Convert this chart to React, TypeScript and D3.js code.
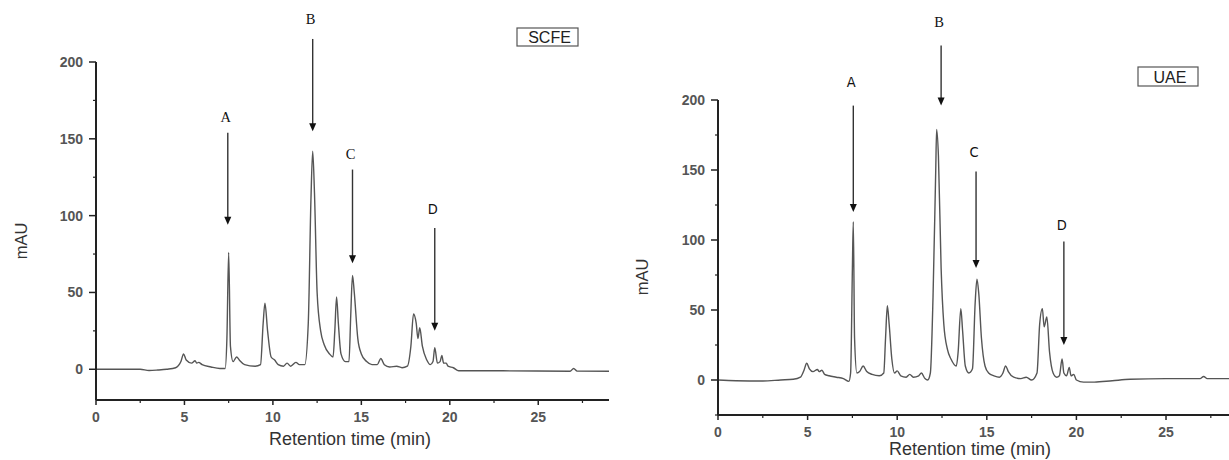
import React from "react";
import * as d3 from "d3";

// ---- data (retention time in min, absorbance in mAU) ----
const scfeTrace: [number, number][] = [
  [0, 0], [2.5, 0], [3.0, -0.8], [3.5, -0.5], [4.0, 0], [4.5, 1], [4.8, 5], [4.95, 10], [5.1, 6], [5.4, 4],
  [5.6, 5.5], [5.7, 4], [5.8, 4.5], [6.0, 3], [6.5, 1.5], [7.0, 0.5], [7.3, 0.5], [7.4, 20], [7.5, 76], [7.6, 15],
  [7.75, 5], [7.95, 8], [8.1, 6], [8.4, 3], [9.0, 2], [9.3, 3], [9.45, 30], [9.55, 43], [9.7, 25], [9.9, 8],
  [10.1, 6], [10.3, 3], [10.6, 2], [10.8, 4], [11.0, 2], [11.3, 4.5], [11.5, 3], [11.8, 3], [12.0, 30], [12.15, 110],
  [12.25, 142], [12.35, 115], [12.5, 50], [12.7, 25], [12.9, 16], [13.2, 10], [13.4, 8], [13.5, 25], [13.6, 47], [13.7, 30],
  [13.85, 10], [14.1, 5], [14.3, 5], [14.4, 35], [14.5, 61], [14.6, 50], [14.8, 20], [15.0, 10], [15.3, 5], [15.6, 3],
  [15.9, 3], [16.1, 7], [16.3, 3], [16.6, 1.5], [17.0, 2], [17.3, 1], [17.6, 2], [17.8, 15], [17.95, 36], [18.1, 30],
  [18.2, 20], [18.3, 27], [18.45, 15], [18.7, 6], [18.9, 3], [19.05, 5], [19.15, 14], [19.3, 4], [19.45, 5], [19.55, 9],
  [19.65, 4], [19.8, 4], [19.9, 2], [20.2, 1], [20.5, -1], [21, -1], [23, -1], [26.8, -1.3], [27.0, 0.5], [27.2, -1.2],
  [29, -1.3],
];

const uaeTrace: [number, number][] = [
  [0, 0], [1.0, -0.5], [2.5, -0.7], [3.5, 0], [4.2, 0.5], [4.6, 2], [4.8, 7], [4.95, 12], [5.1, 8], [5.3, 6],
  [5.55, 7.5], [5.65, 6], [5.8, 7], [5.95, 4], [6.2, 3], [6.6, 2], [7.0, 1], [7.3, -1], [7.4, 5], [7.5, 80],
  [7.55, 113], [7.62, 30], [7.75, 5], [7.9, 6], [8.1, 10], [8.3, 6], [8.6, 4], [9.0, 3], [9.25, 5], [9.35, 30],
  [9.45, 53], [9.55, 40], [9.7, 15], [9.85, 5], [10.0, 6.5], [10.2, 3], [10.5, 2], [10.7, 4], [10.9, 2], [11.2, 3],
  [11.35, 5], [11.55, 1], [11.7, 0], [11.85, 5], [12.0, 60], [12.15, 150], [12.2, 179], [12.3, 160], [12.45, 80], [12.6, 40],
  [12.8, 22], [13.0, 15], [13.3, 10], [13.4, 20], [13.55, 51], [13.65, 35], [13.8, 10], [14.0, 5], [14.2, 8], [14.35, 55],
  [14.45, 72], [14.55, 62], [14.7, 30], [14.9, 10], [15.1, 5], [15.4, 3], [15.7, 2], [15.9, 5], [16.05, 10], [16.2, 6],
  [16.5, 2], [16.9, 1], [17.2, 2], [17.5, 0], [17.8, 5], [17.95, 40], [18.1, 51], [18.2, 38], [18.35, 45], [18.5, 20],
  [18.7, 5], [18.9, 2], [19.05, 3], [19.2, 15], [19.3, 5], [19.45, 3], [19.6, 9], [19.7, 3], [19.85, 4], [20.0, 0],
  [20.4, -1.5], [21, -1.5], [22, -0.5], [23, 0.5], [25, 1], [26.9, 1], [27.1, 2.5], [27.3, 1], [29, 1],
];

const xTicks = [0, 5, 10, 15, 20, 25];
const yTicks = [0, 50, 100, 150, 200];

// annotations: label, time, label y, arrow top, arrow tip (mAU)
type Ann = { label: string; t: number; ly: number; top: number; tip: number; serif: boolean };
const scfeMarks: Ann[] = [
  { label: "A", t: 7.45, ly: 161, top: 154, tip: 94, serif: true },
  { label: "B", t: 12.25, ly: 225, top: 215, tip: 155, serif: true },
  { label: "C", t: 14.5, ly: 137, top: 130, tip: 69, serif: true },
  { label: "D", t: 19.15, ly: 101, top: 92, tip: 25, serif: false },
];
const uaeMarks: Ann[] = [
  { label: "A", t: 7.55, ly: 209, top: 196, tip: 120, serif: false },
  { label: "B", t: 12.45, ly: 252, top: 239, tip: 196, serif: true },
  { label: "C", t: 14.4, ly: 159, top: 149, tip: 80, serif: false },
  { label: "D", t: 19.3, ly: 107, top: 99, tip: 25, serif: false },
];

type PanelProps = {
  trace: [number, number][];
  marks: Ann[];
  name: string;
  x0: number; x1: number; yBottom: number; yTop: number; yMin: number;
  box: [number, number, number, number];
  mauPos: [number, number];
  xTitle: [number, number];
};

const SANS = "Liberation Sans, Arial, sans-serif";
const SERIF = "Liberation Serif, Times New Roman, serif";

function Panel(p: PanelProps) {
  const x = d3.scaleLinear().domain([0, 29]).range([p.x0, p.x1]);
  const y = d3.scaleLinear().domain([p.yMin, 200]).range([p.yBottom, p.yTop]);
  const line = d3.line<[number, number]>().x(d => x(d[0])).y(d => y(d[1])).curve(d3.curveMonotoneX);
  const xMinor = d3.range(2.5, 29, 5);
  const yMinor = d3.range(-25, 200, 50).filter(v => v >= p.yMin);
  const axisColor = "#222";
  return (
    <g>
      {/* trace */}
      <path d={line(p.trace) || ""} fill="none" stroke="#555" strokeWidth={1.4} />
      {/* axes */}
      <line x1={p.x0} x2={p.x0} y1={p.yBottom} y2={p.yTop} stroke={axisColor} strokeWidth={2} />
      <line x1={p.x0} x2={p.x1} y1={p.yBottom} y2={p.yBottom} stroke={axisColor} strokeWidth={2} />
      {yTicks.map(v => (
        <g key={"y" + v}>
          <line x1={p.x0 - 7} x2={p.x0} y1={y(v)} y2={y(v)} stroke={axisColor} strokeWidth={1.5} />
          <text x={p.x0 - 13} y={y(v) + 5} textAnchor="end" fontFamily={SANS} fontWeight="bold" fontSize={14} fill="#555">{v}</text>
        </g>
      ))}
      {yMinor.map(v => (
        <line key={"ym" + v} x1={p.x0 - 3} x2={p.x0} y1={y(v)} y2={y(v)} stroke={axisColor} strokeWidth={1.2} />
      ))}
      {xTicks.map(v => (
        <g key={"x" + v}>
          <line x1={x(v)} x2={x(v)} y1={p.yBottom} y2={p.yBottom + 5} stroke={axisColor} strokeWidth={1.5} />
          <text x={x(v)} y={p.yBottom + 22} textAnchor="middle" fontFamily={SANS} fontWeight="bold" fontSize={14} fill="#555">{v}</text>
        </g>
      ))}
      {xMinor.map(v => (
        <line key={"xm" + v} x1={x(v)} x2={x(v)} y1={p.yBottom} y2={p.yBottom + 3} stroke={axisColor} strokeWidth={1.2} />
      ))}
      {/* axis titles */}
      <text x={p.xTitle[0]} y={p.xTitle[1]} textAnchor="middle" fontFamily={SANS} fontSize={18} fill="#333">Retention time (min)</text>
      <text transform={`translate(${p.mauPos[0]},${p.mauPos[1]}) rotate(-90)`} textAnchor="middle" fontFamily={SANS} fontSize={16.5} fill="#333">mAU</text>
      {/* annotation arrows */}
      {p.marks.map(m => {
        const ax = x(m.t);
        const tipY = y(m.tip);
        return (
          <g key={m.label}>
            <text x={ax - 2} y={y(m.ly)} textAnchor="middle" fontFamily={m.serif ? SERIF : "DejaVu Sans Condensed, DejaVu Sans, sans-serif"} fontSize={14.5} fill="#111">{m.label}</text>
            <line x1={ax} x2={ax} y1={y(m.top)} y2={tipY - 6} stroke="#333" strokeWidth={1.4} />
            <path d={`M${ax - 3.5},${tipY - 8} L${ax + 3.5},${tipY - 8} L${ax},${tipY} Z`} fill="#111" />
          </g>
        );
      })}
      {/* sample box */}
      <rect x={p.box[0]} y={p.box[1]} width={p.box[2] - p.box[0]} height={p.box[3] - p.box[1]} fill="none" stroke="#555" strokeWidth={1.2} />
      <text x={(p.box[0] + p.box[2]) / 2 + 2} y={(p.box[1] + p.box[3]) / 2 + 6} textAnchor="middle" fontFamily={SANS} fontSize={16} fill="#222">{p.name}</text>
    </g>
  );
}

export default function App() {
  return (
    <svg width={1229} height={460} style={{ position: "absolute", left: 0, top: 0, background: "#fff" }}>
      <Panel trace={scfeTrace} marks={scfeMarks} name="SCFE" x0={96} x1={609} yBottom={400} yTop={62} yMin={-20}
        box={[517, 28, 578, 46]} mauPos={[27, 241]} xTitle={[350, 445]} />
      <Panel trace={uaeTrace} marks={uaeMarks} name="UAE" x0={718} x1={1237.7} yBottom={415} yTop={100} yMin={-25}
        box={[1138, 67, 1198, 86]} mauPos={[648, 277]} xTitle={[970, 455]} />
    </svg>
  );
}
